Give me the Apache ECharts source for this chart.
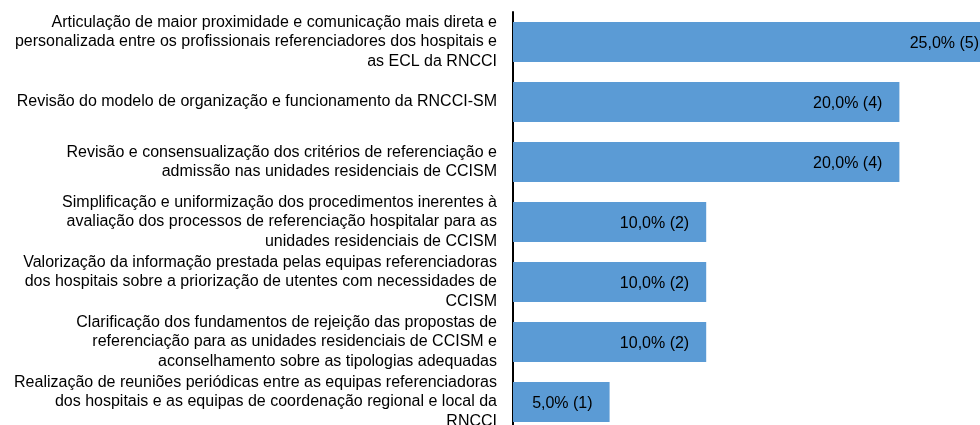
<!DOCTYPE html>
<html><head><meta charset="utf-8">
<script src="https://cdn.jsdelivr.net/npm/echarts@6/dist/echarts.min.js"></script>
<style>html,body{margin:0;padding:0;background:#fff}#c{width:980px;height:425px}</style>
</head><body><div id="c"></div>
<script>
const categories = [
  "Articulação de maior proximidade e comunicação mais direta e\npersonalizada entre os profissionais referenciadores dos hospitais e\nas ECL da RNCCI",
  "Revisão do modelo de organização e funcionamento da RNCCI-SM",
  "Revisão e consensualização dos critérios de referenciação e\nadmissão nas unidades residenciais de CCISM",
  "Simplificação e uniformização dos procedimentos inerentes à\navaliação dos processos de referenciação hospitalar para as\nunidades residenciais de CCISM",
  "Valorização da informação prestada pelas equipas referenciadoras\ndos hospitais sobre a priorização de utentes com necessidades de\nCCISM",
  "Clarificação dos fundamentos de rejeição das propostas de\nreferenciação para as unidades residenciais de CCISM e\naconselhamento sobre as tipologias adequadas",
  "Realização de reuniões periódicas entre as equipas referenciadoras\ndos hospitais e as equipas de coordenação regional e local da\nRNCCI"
];
const percentages = [25.0, 20.0, 20.0, 10.0, 10.0, 10.0, 5.0];
const counts = [5, 4, 4, 2, 2, 2, 1];

const chart = echarts.init(document.getElementById('c'), null, {renderer: 'canvas'});
chart.setOption({
  animation: false,
  grid: {left: 513, top: 12, width: 483, height: 420, containLabel: false, outerBoundsMode: 'none'},
  xAxis: {type: 'value', min: 0, max: 25, show: false},
  yAxis: {
    type: 'category', data: categories, inverse: true,
    axisLine: {show: true, lineStyle: {color: '#000', width: 2}},
    axisTick: {show: false},
    axisLabel: {
      margin: 16, align: 'right', color: '#000', interval: 0,
      fontFamily: 'Liberation Sans, Arial, sans-serif', fontSize: 16, lineHeight: 19.5
    }
  },
  series: [{
    type: 'bar', data: percentages, barCategoryGap: '33%',
    itemStyle: {color: '#5B9BD5'},
    label: {
      show: true, position: 'insideRight', distance: 17, color: '#000', offset: [0, 2],
      fontFamily: 'Liberation Sans, Arial, sans-serif', fontSize: 16,
      formatter: p => p.value.toFixed(1).replace('.', ',') + '% (' + counts[p.dataIndex] + ')'
    }
  }]
});
</script></body></html>
